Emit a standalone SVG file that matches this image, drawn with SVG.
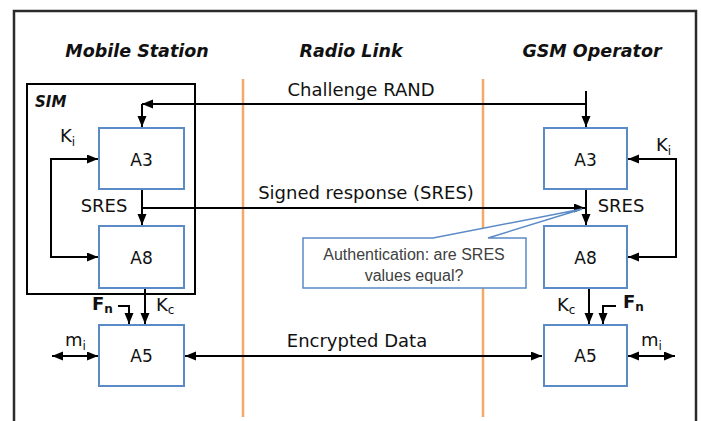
<svg xmlns="http://www.w3.org/2000/svg" width="701" height="421" viewBox="0 0 701 421">
<style>
.t{font-family:"DejaVu Sans","Verdana",sans-serif;font-size:18px;fill:#111}
.b{font-family:"DejaVu Sans","Verdana",sans-serif;font-size:17px;fill:#111;text-anchor:middle}
.h{font-family:"DejaVu Sans",sans-serif;font-size:17.5px;font-weight:bold;font-style:italic;fill:#111;text-anchor:middle}
.sub{font-size:12px}
.box{fill:#fff;stroke:#5B8BC7;stroke-width:2}
.c{fill:none;stroke:#000;stroke-width:2}
.ol{stroke:#F4A96B;stroke-width:2.5}
.cl{font-family:"Liberation Sans","Arial",sans-serif;font-size:16px;fill:#404040;text-anchor:middle}
</style>
<defs>
<marker id="ah" markerUnits="userSpaceOnUse" markerWidth="12" markerHeight="10" refX="11" refY="4.5" orient="auto-start-reverse">
<path d="M0,0 L11,4.5 L0,9 z" fill="#000"/>
</marker>
</defs>
<rect width="701" height="421" fill="#fff"/>
<rect id="frame" x="14" y="11" width="682" height="430" fill="none" stroke="#2b2b2b" stroke-width="2.5"/>
<g id="headers">
<text class="h" x="137" y="57">Mobile Station</text>
<text class="h" x="351" y="57">Radio Link</text>
<text class="h" x="592" y="57">GSM Operator</text>
</g>
<g id="radio-lines">
<line class="ol" x1="243" y1="79" x2="243" y2="417"/>
<line class="ol" x1="483" y1="79" x2="483" y2="417"/>
</g>
<g id="sim">
<rect x="27" y="84" width="168" height="210" fill="none" stroke="#000" stroke-width="2"/>
<text x="35" y="107" font-family="DejaVu Sans,sans-serif" font-size="15px" font-weight="bold" font-style="italic" fill="#111">SIM</text>
</g>
<g id="connectors">
<path class="c" d="M586,91 V127" marker-end="url(#ah)"/>
<path class="c" d="M586,104 H142" marker-end="url(#ah)"/>
<path class="c" d="M142,104 V127" marker-end="url(#ah)"/>
<path class="c" d="M142,189 V225" marker-end="url(#ah)"/>
<path class="c" d="M142,208 H585" marker-end="url(#ah)"/>
<path class="c" d="M586,189 V225" marker-end="url(#ah)"/>
<path class="c" d="M98,159 H51 V257 H98" marker-start="url(#ah)" marker-end="url(#ah)"/>
<path class="c" d="M628,159 H676 V257 H628" marker-start="url(#ah)" marker-end="url(#ah)"/>
<path class="c" d="M145,288 V324" marker-end="url(#ah)"/>
<path class="c" d="M118,306 H129 V324" marker-end="url(#ah)"/>
<path class="c" d="M589,288 V324" marker-end="url(#ah)"/>
<path class="c" d="M616,306 H603 V324" marker-end="url(#ah)"/>
<path class="c" d="M52,356 H98" marker-start="url(#ah)" marker-end="url(#ah)"/>
<path class="c" d="M628,356 H675" marker-start="url(#ah)" marker-end="url(#ah)"/>
<path class="c" d="M185,356 H542" marker-start="url(#ah)" marker-end="url(#ah)"/>
</g>
<g id="labels">
<text class="t" x="361" y="96" text-anchor="middle">Challenge RAND</text>
<text class="t" x="366" y="199" text-anchor="middle">Signed response (SRES)</text>
<text class="t" x="357" y="347" text-anchor="middle">Encrypted Data</text>
<text class="t" x="104" y="212" text-anchor="middle">SRES</text>
<text class="t" x="621" y="212" text-anchor="middle">SRES</text>
<text class="t" x="60" y="142">K<tspan class="sub" dy="4">i</tspan></text>
<text class="t" x="656" y="151">K<tspan class="sub" dy="4">i</tspan></text>
<text class="t" x="92" y="310" font-weight="bold">F<tspan class="sub" dy="3">n</tspan></text>
<text class="t" x="156" y="311">K<tspan class="sub" dy="3">c</tspan></text>
<text class="t" x="557" y="311">K<tspan class="sub" dy="3">c</tspan></text>
<text class="t" x="623" y="308" font-weight="bold">F<tspan class="sub" dy="3">n</tspan></text>
<text class="t" x="65" y="346">m<tspan class="sub" dy="4">i</tspan></text>
<text class="t" x="641" y="346">m<tspan class="sub" dy="4">i</tspan></text>
</g>
<g id="ms-a3"><rect class="box" x="99" y="128" width="85" height="61"/><text class="b" x="141.5" y="166">A3</text></g>
<g id="ms-a8"><rect class="box" x="99" y="226" width="85" height="62"/><text class="b" x="141.5" y="264">A8</text></g>
<g id="ms-a5"><rect class="box" x="99" y="325" width="85" height="61"/><text class="b" x="141.5" y="362">A5</text></g>
<g id="op-a3"><rect class="box" x="544" y="128" width="83" height="61"/><text class="b" x="585.5" y="166">A3</text></g>
<g id="op-a8"><rect class="box" x="544" y="226" width="83" height="62"/><text class="b" x="585.5" y="264">A8</text></g>
<g id="op-a5"><rect class="box" x="544" y="325" width="83" height="61"/><text class="b" x="585.5" y="362">A5</text></g>
<g id="callout">
<path d="M303,238 H433 L582,209 L488,238 H526 V288 H303 Z" fill="#fff" stroke="#5B8BC7" stroke-width="1.5"/>
<text class="cl" x="414" y="260">Authentication: are SRES</text>
<text class="cl" x="414" y="281">values equal?</text>
</g>
</svg>
